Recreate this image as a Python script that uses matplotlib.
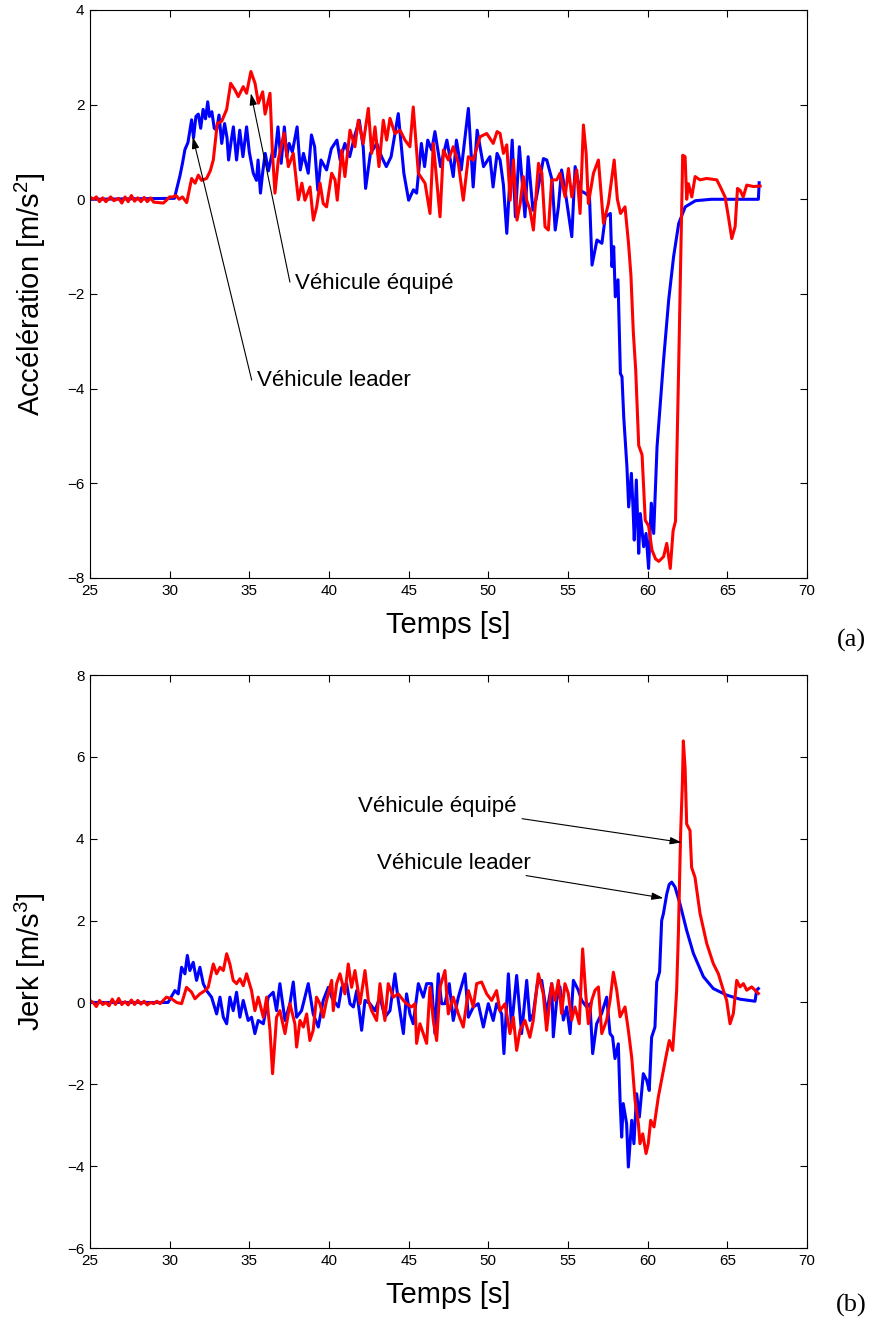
import numpy as np
import matplotlib
matplotlib.use("Agg")
import matplotlib.pyplot as plt

plt.rcParams["font.family"] = ["Liberation Sans", "DejaVu Sans"]
plt.rcParams["mathtext.default"] = "regular"

# acceleration, leader vehicle (blue)
t_acc_leader = [25.0, 30.3, 30.65, 30.8, 30.96, 31.15, 31.38, 31.5, 31.65, 31.8, 31.95, 32.1, 32.25, 32.39, 32.5,
                32.65, 32.8, 32.95, 33.1, 33.27, 33.45, 33.6, 33.7, 33.85, 34.0, 34.2, 34.4, 34.6, 34.83, 35.0,
                35.25, 35.45, 35.55, 35.7, 35.85, 36.0, 36.2, 36.45, 36.6, 36.8, 37.0, 37.2, 37.35, 37.5, 37.7,
                38.0, 38.2, 38.4, 38.7, 38.9, 39.1, 39.3, 39.5, 39.85, 40.15, 40.5, 40.7, 41.0, 41.3, 41.6,
                41.9, 42.15, 42.3, 42.6, 43.0, 43.3, 43.6, 43.9, 44.35, 44.7, 45.0, 45.3, 45.5, 45.8, 46.0,
                46.2, 46.45, 46.65, 47.0, 47.4, 47.8, 48.0, 48.3, 48.75, 49.05, 49.3, 49.7, 50.1, 50.3, 50.55,
                50.74, 50.95, 51.16, 51.5, 51.7, 51.95, 52.3, 52.5, 52.8, 53.0, 53.46, 53.67, 54.0, 54.2, 54.4,
                54.6, 54.9, 55.24, 55.45, 55.76, 56.07, 56.35, 56.51, 56.82, 57.13, 57.34, 57.66, 57.76, 57.87,
                57.97, 58.14, 58.29, 58.39, 58.5, 58.7, 58.81, 58.98, 59.08, 59.16, 59.29, 59.44, 59.54, 59.75,
                59.9, 60.06, 60.23, 60.38, 60.59, 61.0, 61.32, 61.63, 61.95, 62.36, 63.0, 64.0, 66.95, 67.0]
acc_leader = [0.0, 0.02, 0.5, 0.75, 1.05, 1.2, 1.68, 1.3, 1.75, 1.8, 1.5, 1.9, 1.7, 2.06, 1.75,
              1.85, 1.5, 1.46, 1.78, 1.18, 1.6, 1.3, 0.83, 1.2, 1.53, 0.83, 1.46, 0.9, 1.53, 1.0,
              0.55, 0.4, 0.83, 0.13, 0.6, 0.97, 0.6, 1.0, 0.9, 1.53, 0.76, 1.53, 0.9, 1.18, 1.0,
              1.53, 0.62, 0.97, 0.55, 1.36, 1.11, 0.19, 0.83, 0.62, 1.07, 1.25, 0.83, 1.18, 0.9, 1.32,
              1.67, 1.1, 0.23, 0.97, 1.18, 0.9, 0.69, 0.9, 1.81, 0.55, -0.02, 0.2, 0.13, 1.18, 0.69,
              1.25, 1.04, 1.43, 0.69, 1.25, 0.48, 1.25, 0.62, 1.92, 0.26, 1.46, 0.69, 0.9, 0.26, 0.97,
              0.83, 0.3, -0.72, 1.25, -0.37, 1.11, -0.37, 0.9, -0.23, 0.0, 0.86, 0.83, 0.41, -0.65, -0.16,
              0.62, 0.0, -0.79, 0.69, 0.19, 0.13, 0.06, -1.39, -0.86, -0.93, -0.37, -0.3, -1.42, -1.0,
              -2.06, -1.7, -3.68, -3.75, -4.6, -5.65, -6.5, -5.79, -6.5, -7.2, -5.93, -7.48, -6.64, -7.34,
              -7.06, -7.8, -6.42, -7.06, -5.23, -3.4, -2.13, -1.21, -0.51, -0.16, -0.03, 0.0, 0.0, 0.35]

# acceleration, equipped vehicle (red)
t_acc_equip = [25.0, 25.2, 25.4, 25.6, 25.8, 26.0, 26.3, 26.5, 26.8, 27.0, 27.2, 27.4, 27.6, 27.8, 28.0,
               28.2, 28.4, 28.6, 28.8, 29.0, 29.3, 29.6, 29.8, 30.0, 30.2, 30.4, 30.6, 30.8, 31.07, 31.38,
               31.6, 31.8, 32.0, 32.32, 32.55, 32.74, 32.99, 33.27, 33.58, 33.83, 34.1, 34.31, 34.62, 34.83,
               35.1, 35.36, 35.57, 35.84, 35.99, 36.3, 36.45, 36.61, 36.82, 37.18, 37.45, 37.76, 38.08, 38.3,
               38.49, 38.81, 39.02, 39.23, 39.44, 39.64, 39.85, 40.17, 40.38, 40.52, 40.8, 41.0, 41.32, 41.63,
               41.84, 42.15, 42.47, 42.68, 42.89, 43.14, 43.41, 43.62, 43.83, 44.14, 44.46, 44.77, 45.08,
               45.29, 45.61, 46.03, 46.34, 46.55, 46.97, 47.18, 47.49, 47.8, 48.12, 48.43, 48.75, 49.06,
               49.48, 49.9, 50.31, 50.55, 50.74, 50.95, 51.16, 51.37, 51.58, 51.8, 52.0, 52.2, 52.41, 52.62,
               52.83, 53.15, 53.36, 53.56, 53.77, 53.98, 54.3, 54.5, 54.82, 55.03, 55.24, 55.55, 55.76,
               55.97, 56.14, 56.28, 56.6, 56.91, 57.23, 57.54, 57.9, 58.1, 58.3, 58.58, 58.8, 58.95, 59.1,
               59.25, 59.44, 59.65, 59.85, 60.06, 60.27, 60.5, 60.7, 61.0, 61.2, 61.42, 61.6, 61.75, 61.95,
               62.15, 62.2, 62.35, 62.45, 62.56, 62.77, 62.98, 63.29, 63.7, 64.34, 64.55, 64.86, 65.07,
               65.28, 65.49, 65.64, 65.8, 66.0, 66.22, 66.64, 67.06]
acc_equip = [0.05, 0.0, 0.05, -0.05, 0.03, -0.05, 0.05, -0.03, 0.02, -0.08, 0.05, -0.05, 0.08, -0.04, 0.03,
             -0.05, 0.04, -0.05, 0.03, -0.06, -0.07, -0.08, -0.02, 0.05, 0.05, 0.08, 0.0, 0.05, -0.07, 0.44,
             0.34, 0.51, 0.4, 0.44, 0.6, 0.83, 1.6, 1.65, 1.9, 2.45, 2.31, 2.17, 2.38, 2.24,
             2.7, 2.45, 2.03, 2.27, 1.8, 2.24, 1.0, 0.13, 0.83, 1.4, 0.69, 0.97, -0.01, 0.34,
             -0.02, 0.26, -0.44, -0.16, 0.34, -0.09, -0.16, 0.55, 0.41, -0.02, 1.04, 0.48, 1.46, 1.11,
             1.67, 1.18, 1.92, 0.97, 1.53, 0.69, 1.67, 1.25, 1.71, 1.39, 1.46, 1.25, 1.11,
             1.95, 0.55, 0.34, -0.3, 1.18, -0.37, 1.04, 0.83, 1.11, 0.76, -0.02, 0.9, 0.83,
             1.32, 1.39, 1.18, 1.43, 1.39, 0.97, 1.15, -0.02, 0.83, -0.44, -0.09, 0.48, -0.02, -0.23,
             -0.65, 0.76, 0.55, -0.58, -0.65, 0.41, 0.41, 0.55, 0.05, 0.65, 0.05, 0.62, -0.3,
             1.57, 0.97, -0.09, 0.55, 0.83, -0.51, -0.09, 0.83, 0.0, -0.3, -0.16, -0.93, -1.6, -2.8,
             -3.6, -5.2, -5.4, -6.78, -6.9, -7.41, -7.6, -7.65, -7.55, -7.27, -7.8, -7.0, -6.8, -3.5,
             0.0, 0.93, 0.9, 0.0, 0.33, 0.05, 0.48, 0.41, 0.44, 0.41, 0.27, 0.05, -0.37,
             -0.83, -0.58, 0.23, 0.19, 0.05, 0.3, 0.27, 0.28]

# jerk, leader vehicle (blue)
t_jerk_leader = [25.0, 29.9, 30.33, 30.54, 30.75, 30.96, 31.11, 31.27, 31.48, 31.69, 31.9, 32.11, 32.32, 32.63,
                 32.95, 33.16, 33.37, 33.58, 33.78, 33.99, 34.2, 34.41, 34.62, 34.93, 35.14, 35.35, 35.56,
                 35.88, 36.19, 36.5, 36.71, 36.92, 37.24, 37.55, 37.76, 37.97, 38.28, 38.7, 39.01, 39.33,
                 39.64, 39.96, 40.2, 40.59, 40.8, 41.11, 41.32, 41.53, 41.74, 42.05, 42.26, 42.57, 42.89,
                 43.2, 43.51, 43.83, 44.14, 44.35, 44.67, 44.87, 45.08, 45.29, 45.61, 45.92, 46.13, 46.44,
                 46.65, 46.86, 47.07, 47.28, 47.55, 47.8, 48.12, 48.54, 48.75, 49.06, 49.37, 49.69, 50.0,
                 50.31, 50.52, 50.84, 50.98, 51.26, 51.46, 51.78, 52.09, 52.41, 52.61, 52.82, 53.08, 53.35,
                 53.66, 53.98, 54.08, 54.29, 54.5, 54.71, 54.92, 55.13, 55.34, 55.65, 55.86, 56.17, 56.38,
                 56.55, 56.8, 57.11, 57.43, 57.64, 57.8, 57.95, 58.16, 58.27, 58.37, 58.47, 58.68, 58.79,
                 59.0, 59.14, 59.31, 59.48, 59.73, 59.94, 60.1, 60.25, 60.46, 60.57, 60.75, 60.88, 60.99,
                 61.2, 61.35, 61.51, 61.72, 62.03, 62.45, 62.87, 63.5, 64.12, 64.96, 65.8, 66.74, 66.84, 66.95]
jerk_leader = [0.0, 0.0, 0.29, 0.21, 0.86, 0.7, 1.15, 0.78, 0.98, 0.54, 0.86, 0.46, 0.29, 0.13,
               -0.28, 0.13, -0.36, -0.52, 0.13, -0.2, 0.25, -0.36, 0.05, -0.44, -0.36, -0.76, -0.44,
               -0.52, 0.13, 0.25, -0.2, 0.46, -0.44, -0.03, 0.5, -0.36, -0.2, 0.46, -0.28, -0.6,
               0.05, 0.37, 0.1, -0.11, 0.37, 0.46, -0.03, -0.11, 0.29, -0.68, 0.05, -0.03, -0.2,
               0.13, -0.36, -0.2, 0.7, 0.05, -0.76, 0.21, -0.28, -0.52, 0.46, 0.13, 0.46, 0.46,
               -0.76, 0.7, -0.03, -0.03, 0.46, -0.44, 0.13, 0.7, -0.36, -0.11, -0.03, -0.6, -0.03,
               -0.44, -0.03, -0.28, -1.25, 0.7, -0.6, 0.66, -0.76, 0.54, -0.44, -0.28, 0.46, 0.54,
               -0.27, 0.46, -0.84, 0.05, 0.38, -0.43, -0.11, -0.76, 0.54, 0.3, 0.05, -0.11, -0.03,
               -1.25, -0.52, -0.27, 0.13, -0.76, -0.84, -1.37, -1.01, -2.39, -3.29, -2.47, -2.96, -4.02,
               -2.88, -3.45, -2.23, -2.8, -1.74, -1.9, -2.15, -0.85, -0.6, 0.5, 0.75, 2.0, 2.17,
               2.65, 2.88, 2.94, 2.82, 2.41, 1.76, 1.2, 0.63, 0.34, 0.18, 0.08, 0.03, 0.3, 0.34]

# jerk, equipped vehicle (red)
t_jerk_equip = [25.0, 25.2, 25.4, 25.6, 25.8, 26.0, 26.2, 26.4, 26.6, 26.8, 27.0, 27.2, 27.4, 27.6, 27.8,
                28.0, 28.2, 28.4, 28.6, 28.8, 29.0, 29.2, 29.4, 29.6, 29.8, 30.12, 30.44, 30.75, 31.06,
                31.38, 31.59, 31.9, 32.22, 32.42, 32.74, 32.95, 33.16, 33.37, 33.58, 33.78, 33.99, 34.2,
                34.41, 34.62, 34.83, 35.14, 35.35, 35.56, 35.88, 36.09, 36.3, 36.46, 36.71, 36.92, 37.24,
                37.55, 37.86, 37.97, 38.18, 38.39, 38.6, 38.8, 39.01, 39.22, 39.43, 39.64, 39.85, 40.06,
                40.17, 40.27, 40.48, 40.69, 41.0, 41.21, 41.42, 41.63, 41.95, 42.26, 42.47, 42.68, 42.99,
                43.2, 43.51, 43.72, 44.04, 44.35, 44.67, 44.87, 45.19, 45.4, 45.5, 45.71, 45.92, 46.13,
                46.34, 46.55, 46.76, 46.97, 47.28, 47.49, 47.8, 48.12, 48.43, 48.75, 49.06, 49.27, 49.58,
                49.9, 50.21, 50.52, 50.73, 51.05, 51.36, 51.57, 51.78, 51.99, 52.3, 52.61, 52.82, 53.14,
                53.45, 53.66, 53.98, 54.19, 54.4, 54.6, 54.81, 55.02, 55.23, 55.44, 55.71, 55.92, 56.13,
                56.28, 56.49, 56.7, 56.91, 57.12, 57.43, 57.64, 57.85, 58.06, 58.27, 58.58, 58.79, 59.0,
                59.21, 59.42, 59.52, 59.69, 59.9, 60.04, 60.19, 60.4, 60.67, 60.99, 61.19, 61.36, 61.57,
                61.72, 61.82, 61.93, 62.07, 62.18, 62.24, 62.35, 62.45, 62.66, 62.76, 62.97, 63.29, 63.71,
                64.12, 64.44, 64.75, 64.96, 65.17, 65.38, 65.59, 65.8, 66.01, 66.22, 66.53, 66.84, 66.95]
jerk_equip = [0.05, 0.0, -0.1, 0.05, -0.05, 0.0, -0.08, 0.08, -0.05, 0.1, -0.05, 0.02, -0.06, 0.06, -0.05,
              0.05, -0.04, 0.03, -0.06, 0.0, -0.03, 0.03, -0.03, 0.05, 0.13, 0.09, 0.0, -0.03, 0.37,
              0.25, 0.09, 0.21, 0.29, 0.37, 0.94, 0.7, 0.86, 0.78, 1.19, 0.94, 0.54, 0.46,
              0.58, 0.41, 0.7, 0.29, -0.2, 0.13, -0.36, 0.13, -0.68, -1.74, -0.36, -0.2, -0.76,
              -0.03, -0.52, -1.09, -0.44, -0.6, -0.28, -0.93, -0.68, 0.13, -0.03, -0.36, 0.05, 0.37,
              0.54, -0.2, 0.46, 0.7, 0.21, 0.94, 0.37, 0.78, -0.03, 0.78, 0.05, -0.2, -0.44,
              0.46, -0.44, 0.46, 0.13, 0.21, 0.05, -0.03, -0.11, -0.03, -1.0, -0.52, -0.76, -1.0,
              0.37, -0.44, -0.93, 0.37, 0.78, -0.28, 0.13, -0.28, -0.6, 0.29, -0.11, 0.46, 0.5,
              0.21, 0.05, 0.29, -0.2, -0.03, -0.76, -0.36, -1.17, -0.68, -0.44, -0.85, -0.44, 0.7,
              0.21, -0.68, 0.46, 0.05, 0.54, -0.27, 0.46, 0.22, -0.43, -0.11, -0.52, 1.31, 0.13,
              -0.52, 0.05, 0.3, 0.38, -0.76, -0.43, 0.05, 0.74, 0.3, -0.35, -0.11, -0.68, -1.34,
              -2.39, -2.96, -3.45, -3.21, -3.69, -3.45, -2.88, -3.04, -2.31, -1.66, -1.25, -0.93, -1.17,
              -0.36, 0.29, 1.68, 4.12, 5.34, 6.39, 5.74, 4.36, 4.2, 3.3, 3.06, 2.17, 1.44,
              0.95, 0.7, 0.3, 0.05, -0.52, -0.27, 0.54, 0.38, 0.46, 0.3, 0.38, 0.26, 0.22]

x_ticks = [25, 30, 35, 40, 45, 50, 55, 60, 65, 70]
acc_ticks = [-8, -6, -4, -2, 0, 2, 4]
jerk_ticks = [-6, -4, -2, 0, 2, 4, 6, 8]

fig = plt.figure(figsize=(8.76, 13.28), dpi=100)
ax1 = fig.add_axes([0.1027, 0.5648, 0.8185, 0.4277])
ax2 = fig.add_axes([0.1027, 0.0602, 0.8185, 0.4315])

arrow = dict(arrowstyle="-|>,head_length=0.7,head_width=0.22", color="k", lw=0.8,
             shrinkA=0, shrinkB=0)

# (a) acceleration
ax1.plot(t_acc_leader, acc_leader, color="#0000ff", lw=2.2)
ax1.plot(t_acc_equip, acc_equip, color="#ff0000", lw=2.2)
ax1.set_xlim(25, 70)
ax1.set_ylim(-8, 4)
ax1.set_yticks(acc_ticks)
ax1.set_ylabel("Accélération [m/s$^2$]", fontsize=21)
ax1.yaxis.set_label_coords(-0.058, 0.5)
ax1.annotate("", xy=(35.1, 2.24), xytext=(37.55, -1.75), arrowprops=arrow)
ax1.text(37.87, -1.77, "Véhicule équipé", fontsize=16, ha="left", va="center")
ax1.annotate("", xy=(31.45, 1.32), xytext=(35.15, -3.82), arrowprops=arrow)
ax1.text(35.48, -3.82, "Véhicule leader", fontsize=16, ha="left", va="center")

# (b) jerk
ax2.plot(t_jerk_leader, jerk_leader, color="#0000ff", lw=2.2)
ax2.plot(t_jerk_equip, jerk_equip, color="#ff0000", lw=2.2)
ax2.set_xlim(25, 70)
ax2.set_ylim(-6, 8)
ax2.set_yticks(jerk_ticks)
ax2.set_ylabel("Jerk [m/s$^3$]", fontsize=21)
ax2.yaxis.set_label_coords(-0.058, 0.5)
ax2.annotate("", xy=(62.14, 3.91), xytext=(52.12, 4.49), arrowprops=arrow)
ax2.text(41.82, 4.8, "Véhicule équipé", fontsize=16, ha="left", va="center")
ax2.annotate("", xy=(60.99, 2.55), xytext=(52.37, 3.1), arrowprops=arrow)
ax2.text(43.02, 3.39, "Véhicule leader", fontsize=16, ha="left", va="center")

for ax in (ax1, ax2):
    ax.set_xticks(x_ticks)
    ax.set_xlabel("Temps [s]", fontsize=21)
    ax.xaxis.set_label_coords(0.5, -0.058)
    ax.tick_params(direction="in", top=True, right=True, length=5, width=0.8,
                   labelsize=11, pad=4)
    for s in ax.spines.values():
        s.set_linewidth(0.8)

fig.text(0.972, 0.518, "(a)", fontsize=19, family="Liberation Serif", ha="center", va="center")
fig.text(0.972, 0.017, "(b)", fontsize=19, family="Liberation Serif", ha="center", va="center")

fig.savefig("out.png", dpi=100)
